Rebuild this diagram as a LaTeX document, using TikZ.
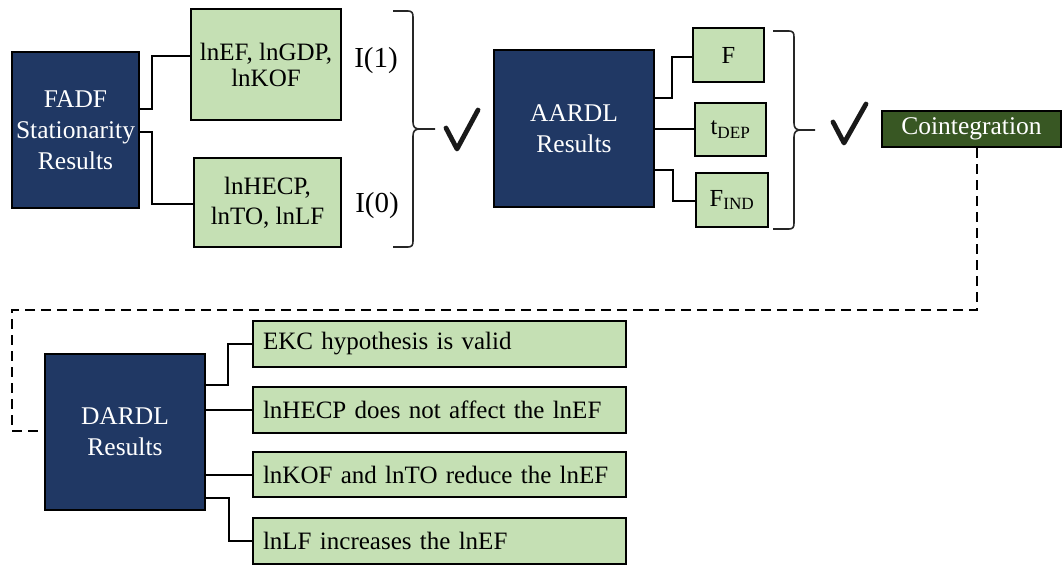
\documentclass[tikz,border=0pt]{standalone}
\usepackage{fontspec}
\setmainfont{Liberation Serif}
\usetikzlibrary{calc}
\definecolor{navy}{HTML}{203864}
\definecolor{lgreen}{HTML}{C5E0B4}
\definecolor{dgreen}{HTML}{385723}
\begin{document}
\begin{tikzpicture}[x=1pt,y=-1pt,
  dark/.style={draw=black, line width=2pt, fill=navy, text=white, align=center, inner sep=0pt,
    font=\fontsize{25.5}{31}\selectfont},
  light/.style={draw=black, line width=2pt, fill=lgreen, align=center, inner sep=0pt,
    font=\fontsize{24.5}{28}\selectfont},
  result/.style={draw=black, line width=2pt, fill=lgreen, align=left, inner xsep=10pt, inner ysep=0pt,
    text width=353pt, minimum height=46pt, font=\fontsize{25}{28}\selectfont},
  conn/.style={draw=black, line width=2pt},
  dashconn/.style={draw=black, line width=2pt, dash pattern=on 10pt off 6pt},
  bracestyle/.style={draw=black!85, line width=1.6pt, line join=round},
  checkstyle/.style={draw=black!90, line width=4.8pt, line cap=round, line join=round},
  lab/.style={font=\fontsize{29}{29}\selectfont}]
\useasboundingbox (0,0) rectangle (1063,565);

% FADF part
\node[dark, minimum width=127pt, minimum height=156pt] (fadf) at (75.5,130) {FADF\\Stationarity\\Results};
\node[light, minimum width=150pt, minimum height=111pt, font=\fontsize{25}{26}\selectfont] (b1) at (266,64.5) {lnEF, lnGDP,\\lnKOF};
\node[light, minimum width=147pt, minimum height=89pt, font=\fontsize{25}{30}\selectfont] (b2) at (267.5,202.5) {lnHECP,\\lnTO, lnLF};
\node[lab] (i1) at (376,61) {I(1)};
\node[lab] (i0) at (377,206) {I(0)};
% brace 1
\draw[bracestyle] (393,11) -- (408,11) .. controls (412,11) and (413,13) .. (413,17) -- (413,122)
  .. controls (413,127) and (415,129) .. (420,129) -- (435,129);
\draw[bracestyle] (393,247) -- (408,247) .. controls (412,247) and (413,245) .. (413,241) -- (413,136)
  .. controls (413,131) and (415,129) .. (420,129);
% check 1
\draw[checkstyle] (446,128) -- (457,149) -- (478,110);

\draw[conn] ([yshift=21pt]fadf.east) -| (152,56) -- (b1.west |- 0,56);
\draw[conn] ([yshift=-2pt]fadf.east) -| (152,204) -- (b2.west |- 0,204);

% AARDL part
\node[dark, minimum width=160pt, minimum height=157pt] (aardl) at (574,128.5) {AARDL\\Results};
\node[light, minimum width=71pt, minimum height=54pt] (F) at (728.5,55) {F};
\node[light, minimum width=71pt, minimum height=53pt] (tdep) at (730.5,129.5) {t\textsubscript{DEP}};
\node[light, minimum width=72pt, minimum height=54pt] (find) at (732,200) {F\textsubscript{IND}};
% brace 2
\draw[bracestyle] (773,31) -- (789,31) .. controls (793,31) and (794,33) .. (794,37) -- (794,123)
  .. controls (794,128) and (796,130) .. (801,130) -- (815,130);
\draw[bracestyle] (773,229) -- (789,229) .. controls (793,229) and (794,227) .. (794,223) -- (794,137)
  .. controls (794,132) and (796,130) .. (801,130);
% check 2
\draw[checkstyle] (833,122) -- (844,143) -- (866,104);

\draw[conn] ([yshift=30.5pt]aardl.east) -| (672,57) -- (F.west |- 0,57);
\draw[conn] (aardl.east |- 0,129) -- (tdep.west |- 0,129);
\draw[conn] ([yshift=-41.5pt]aardl.east) -| (673,201) -- (find.west |- 0,201);

% Cointegration
\node[draw=black, line width=2pt, fill=dgreen, text=white, inner sep=0pt,
  minimum width=179pt, minimum height=36pt, font=\fontsize{25.5}{28}\selectfont] (coint) at (971.5,129) {Cointegration};

% DARDL part
\node[dark, minimum width=160pt, minimum height=156pt] (dardl) at (125,432) {DARDL\\Results};
\node[result] (e1) at (439.5,344) {EKC hypothesis is valid};
\node[result] (e2) at (439.5,410) {lnHECP does not affect the lnEF};
\node[result, minimum height=45pt] (e3) at (439.5,474.5) {lnKOF and lnTO reduce the lnEF};
\node[result] (e4) at (439.5,541) {lnLF increases the lnEF};

\draw[conn] ([yshift=47pt]dardl.east) -| (228,344) -- (e1.west);
\draw[conn] (dardl.east |- e2.west) -- (e2.west);
\draw[conn] (dardl.east |- e3.west) -- (e3.west);
\draw[conn] ([yshift=-66pt]dardl.east) -| (229,541) -- (e4.west);

\draw[dashconn] ([xshift=5.5pt]coint.south) -- (977,310) -- (12,310) -- (12,431) -- (dardl.west |- 0,431);
\end{tikzpicture}
\end{document}
